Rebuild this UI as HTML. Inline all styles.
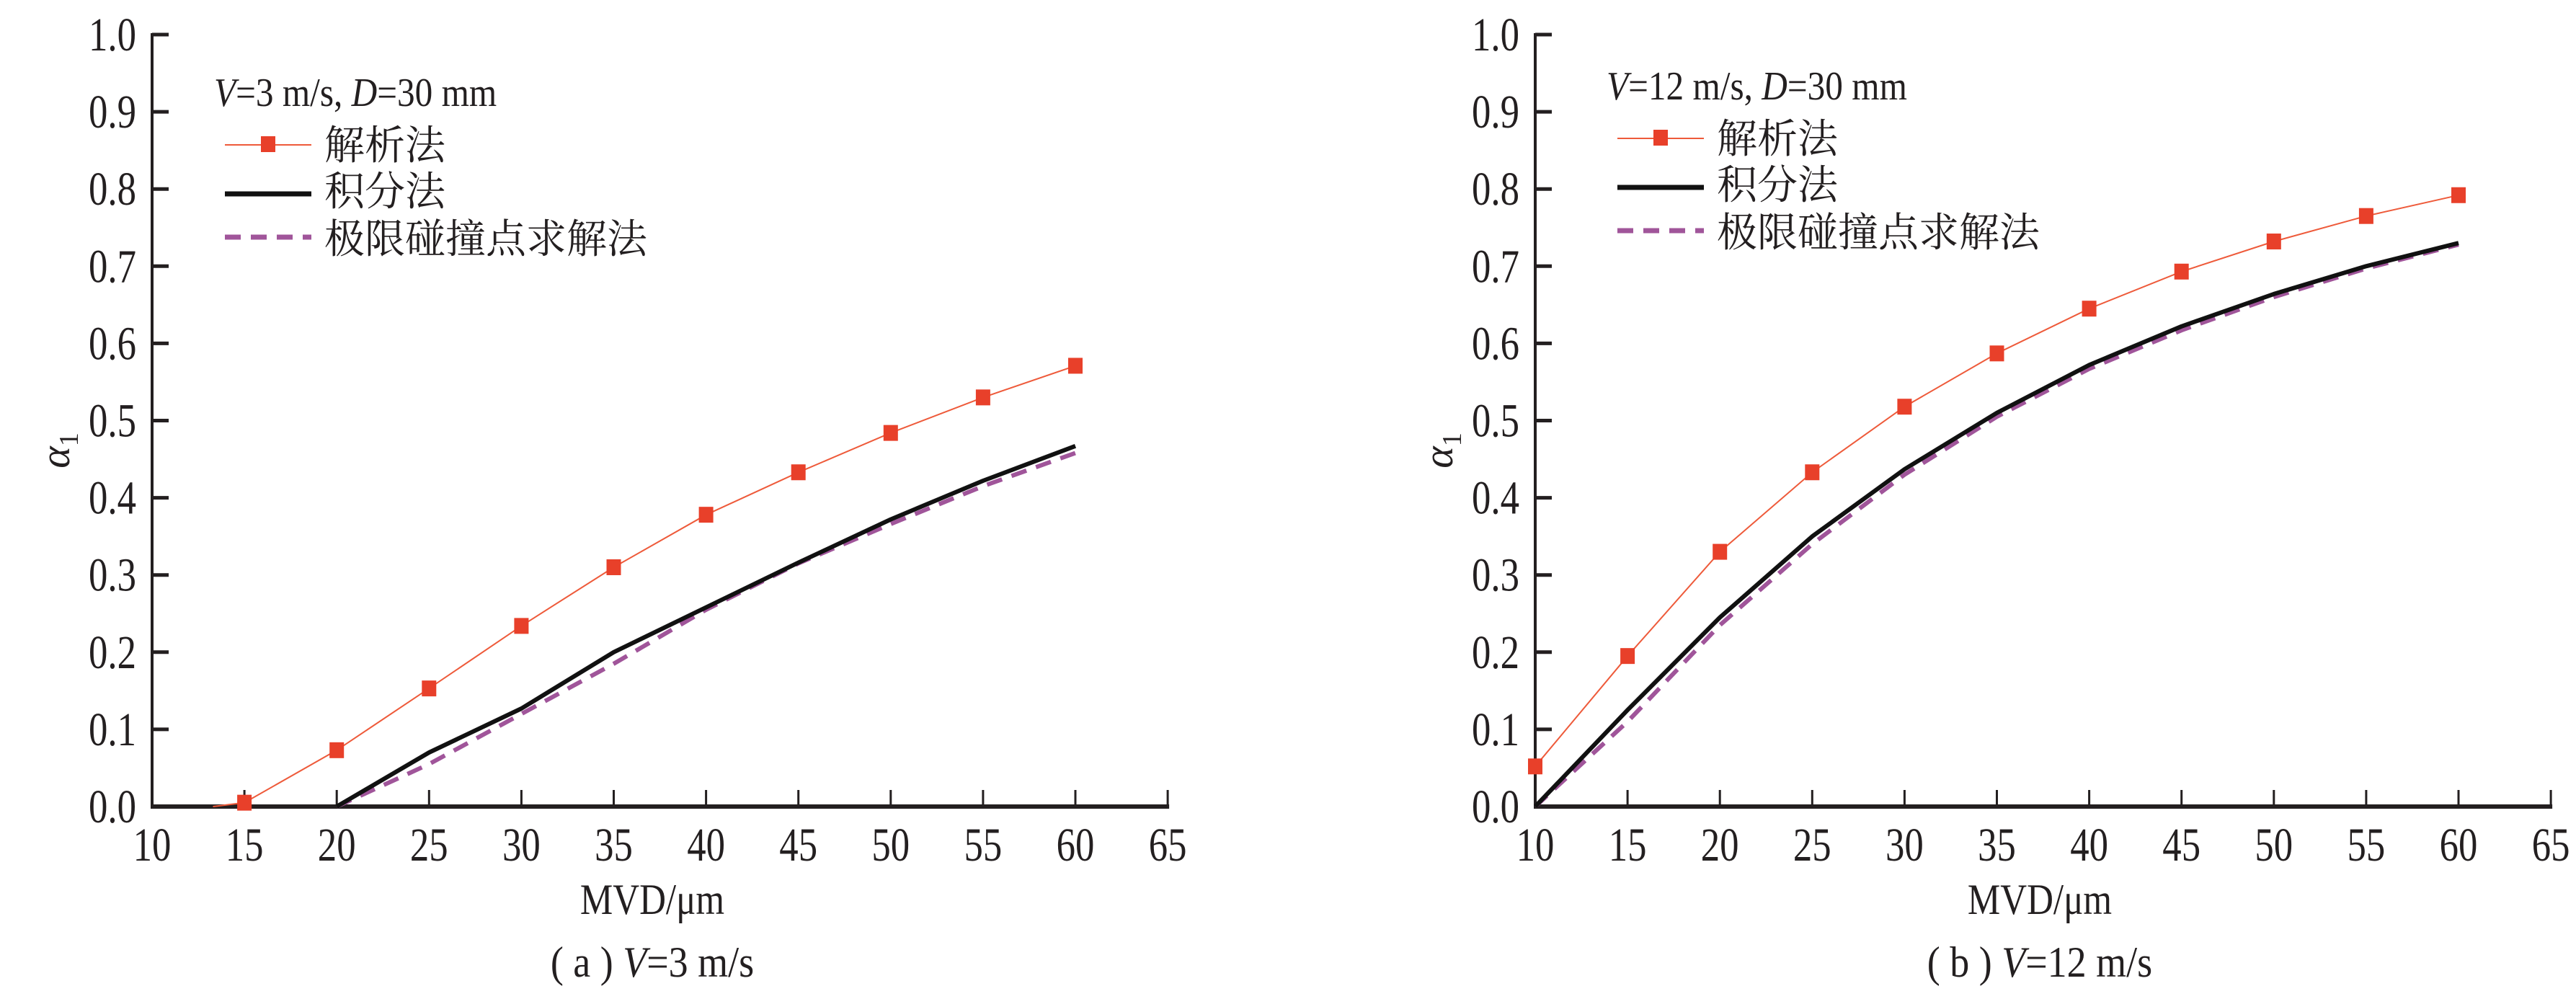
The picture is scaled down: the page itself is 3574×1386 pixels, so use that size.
<!DOCTYPE html>
<html><head><meta charset="utf-8">
<style>
html,body{margin:0;padding:0;background:#fff;}
svg{display:block;}
text{font-family:"Liberation Serif","Noto Serif CJK SC",serif;fill:#231f20;}
.cjk{font-family:"Noto Serif CJK SC","Liberation Serif",serif;}
</style></head>
<body>
<svg id="fig" width="3574" height="1386" viewBox="0 0 3574 1386" xmlns="http://www.w3.org/2000/svg"></svg>
<script>
// ---- data ----
const xTicks = [10,15,20,25,30,35,40,45,50,55,60,65];
const yTicks = [0.0,0.1,0.2,0.3,0.4,0.5,0.6,0.7,0.8,0.9,1.0];
const aAnaX = [13.3,15,20,25,30,35,40,45,50,55,60];
const aAnaY = [0,0.005,0.073,0.153,0.234,0.31,0.378,0.433,0.484,0.53,0.571];
const aIntX = [20,25,30,35,40,45,50,55,60];
const aIntY = [0,0.07,0.127,0.2,0.258,0.316,0.372,0.422,0.467];
const aLimX = [20,25,30,35,40,45,50,55,60];
const aLimY = [0,0.055,0.12,0.185,0.255,0.315,0.366,0.415,0.458];
const bAnaX = [10,15,20,25,30,35,40,45,50,55,60];
const bAnaY = [0.052,0.195,0.33,0.433,0.518,0.587,0.645,0.693,0.732,0.765,0.792];
const bIntX = [10,15,20,25,30,35,40,45,50,55,60];
const bIntY = [0,0.125,0.245,0.35,0.437,0.51,0.572,0.622,0.664,0.7,0.73];
const bLimX = [10,15,20,25,30,35,40,45,50,55,60];
const bLimY = [0,0.11,0.235,0.34,0.43,0.505,0.567,0.617,0.66,0.697,0.728];

const NS = "http://www.w3.org/2000/svg";
const svg = document.getElementById('fig');
function mk(tag, attrs, parent){
  const e = document.createElementNS(NS, tag);
  for (const k in attrs) e.setAttribute(k, attrs[k]);
  (parent||svg).appendChild(e);
  return e;
}
function sq(x, f){ return `translate(${x},0) scale(${f},1) translate(${-x},0)`; }

function panel(p){
  const g = mk('g', {});
  
  
  const X0 = p.x0, Y0 = 1119, pxPerX = 25.62, pxPerY = 1071;
  const sx = v => X0 + (v - 10) * pxPerX;
  const sy = v => Y0 - v * pxPerY;
  const ya = mk('line', {x1:X0, y1:sy(1.0)-2, x2:X0, y2:Y0, stroke:'#231f20','stroke-width':4}, g);
  
  
  const xa = mk('line', {x1:X0-2, y1:Y0, x2:sx(65)+2, y2:Y0, stroke:'#231f20','stroke-width':6}, g);
  
  
  yTicks.forEach(t => {
    const y = sy(t);
    const tk = mk('line', {x1:X0, y1:y, x2:X0+23, y2:y, stroke:'#231f20','stroke-width':5}, g);
    
    
    const lb = mk('text', {x:X0-22, y:y+22, 'font-size':66, 'text-anchor':'end', transform:sq(X0-22,0.8)}, g);
    lb.textContent = t.toFixed(1);
    
    
  });
  xTicks.forEach(t => {
    const x = sx(t);
    if (t > 10) {
      const tk = mk('line', {x1:x, y1:Y0, x2:x, y2:Y0-23, stroke:'#231f20','stroke-width':3}, g);
      
      
    }
    const lb = mk('text', {x:x, y:1194, 'font-size':66, 'text-anchor':'middle', transform:sq(x,0.8)}, g);
    lb.textContent = t;
    
    
  });
  const xt = mk('text', {x:p.cx, y:1268, 'font-size':60, 'text-anchor':'middle', transform:sq(p.cx,0.85)}, g);
  xt.textContent = 'MVD/μm';
  
  
  const ytg = mk('text', {x:0, y:0, 'font-size':58, 'font-style':'italic', transform:`translate(${X0-115},625) rotate(-90)`, 'text-anchor':'middle'}, g);
  ytg.innerHTML = 'α<tspan font-size="38" font-style="normal" dy="12">1</tspan>';
  
  
  const cap = mk('text', {x:p.cx, y:1355, 'font-size':60, 'text-anchor':'middle', transform:sq(p.cx,0.9)}, g);
  cap.innerHTML = p.caption;
  
  
  const pts = (xs, ys) => xs.map((v,i) => sx(v).toFixed(1) + ',' + sy(ys[i]).toFixed(1)).join(' ');
  const lim = mk('polyline', {points:pts(p.limX,p.limY), fill:'none', stroke:'#a0559a','stroke-width':6,'stroke-dasharray':'22,14'}, g);
  
  
  const intl = mk('polyline', {points:pts(p.intX,p.intY), fill:'none', stroke:'#111','stroke-width':6,'stroke-linejoin':'round'}, g);
  
  
  const ana = mk('polyline', {points:pts(p.anaX,p.anaY), fill:'none', stroke:'#ee5a3a','stroke-width':2}, g);
  
  
  p.anaX.forEach((v,i) => {
    if (v % 5 !== 0) return;
    const m = mk('rect', {x:sx(v)-10, y:sy(p.anaY[i])-11, width:20, height:22, fill:'#e8402a'}, g);
    
    
  });
  const L = p.lx;
  const lt = mk('text', {x:L, y:p.ly, 'font-size':56, transform:sq(L,0.88)}, g);
  lt.innerHTML = p.legTitle;
  
  
  const sL = L+15, sR = L+135, tX = L+153;
  const e1 = p.ly + 74, e2 = p.ly + 138, e3 = p.ly + 204;
  const l1 = mk('line', {x1:sL, y1:e1-20, x2:sR, y2:e1-20, stroke:'#ee5a3a','stroke-width':2}, g);
  
  
  const r1 = mk('rect', {x:(sL+sR)/2-10, y:e1-32, width:20, height:22, fill:'#e8402a'}, g);
  
  
  const t1 = mk('text', {x:tX, y:e1, 'font-size':56, class:'cjk'}, g); t1.textContent = '解析法';
  
  
  const l2 = mk('line', {x1:sL, y1:e2-16, x2:sR, y2:e2-16, stroke:'#111','stroke-width':7}, g);
  
  
  const t2 = mk('text', {x:tX, y:e2, 'font-size':56, class:'cjk'}, g); t2.textContent = '积分法';
  
  
  const l3 = mk('line', {x1:sL, y1:e3-22, x2:sR, y2:e3-22, stroke:'#a0559a','stroke-width':7,'stroke-dasharray':'22,14'}, g);
  
  
  const t3 = mk('text', {x:tX, y:e3, 'font-size':56, class:'cjk'}, g); t3.textContent = '极限碰撞点求解法';
  
  
}

panel({name:'panel-a', x0:211, cx:905, caption:'( a ) <tspan font-style="italic">V</tspan>=3 m/s',
  anaX:aAnaX, anaY:aAnaY, intX:aIntX, intY:aIntY, limX:aLimX, limY:aLimY,
  lx:297, ly:147, legTitle:'<tspan font-style="italic">V</tspan>=3 m/s, <tspan font-style="italic">D</tspan>=30 mm'});
panel({name:'panel-b', x0:2130, cx:2830, caption:'( b ) <tspan font-style="italic">V</tspan>=12 m/s',
  anaX:bAnaX, anaY:bAnaY, intX:bIntX, intY:bIntY, limX:bLimX, limY:bLimY,
  lx:2229, ly:138, legTitle:'<tspan font-style="italic">V</tspan>=12 m/s, <tspan font-style="italic">D</tspan>=30 mm'});
</script>
</body></html>
